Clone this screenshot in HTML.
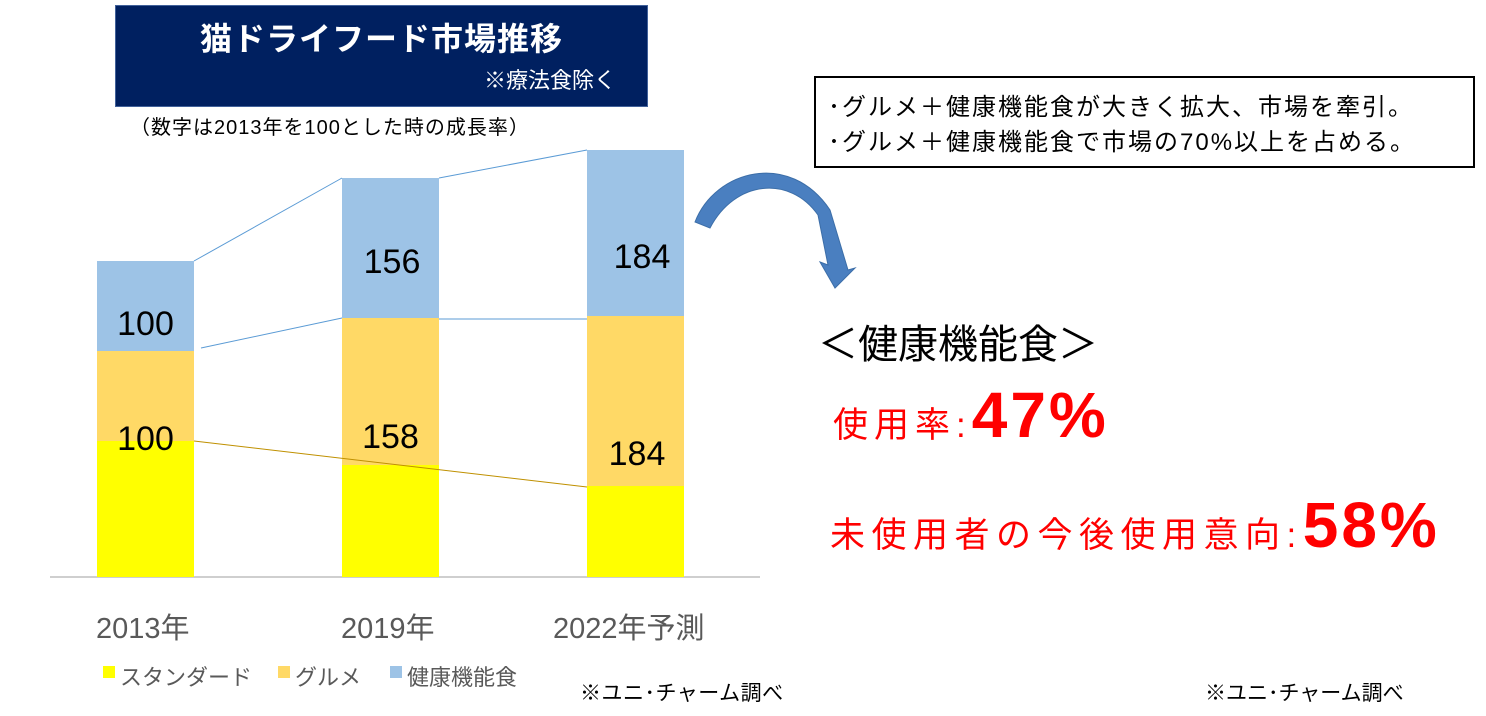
<!DOCTYPE html>
<html><head><meta charset="utf-8"><style>
body{margin:0;width:1486px;height:716px;background:#fff;position:relative;overflow:hidden;font-family:"Liberation Sans","Noto Sans CJK JP",sans-serif}
.a{position:absolute;white-space:nowrap}
</style></head><body>
<div class="a" style="left:115px;top:5px;width:531px;height:100px;background:#002060;border:1px solid #41619a"></div>
<div class="a" style="left:115px;top:14px;width:533px;text-align:center;color:#fff;font-size:32px;font-weight:bold;letter-spacing:1px">猫ドライフード市場推移</div>
<div class="a" style="left:484px;top:63px;color:#fff;font-size:22px">※療法食除く</div>
<div class="a" style="left:130px;top:111px;color:#000;font-size:20px;letter-spacing:1px">（数字は2013年を100とした時の成長率）</div>
<svg class="a" style="left:0;top:0" width="1486" height="716">
<line x1="50" y1="577" x2="760" y2="577" stroke="#bfbfbf" stroke-width="1.5"/>
<rect x="97" y="261" width="97" height="90" fill="#9dc3e6"/><rect x="97" y="351" width="97" height="90" fill="#ffd966"/><rect x="97" y="441" width="97" height="136" fill="#ffff00"/>
<rect x="342" y="178" width="97" height="140" fill="#9dc3e6"/><rect x="342" y="318" width="97" height="147" fill="#ffd966"/><rect x="342" y="465" width="97" height="112" fill="#ffff00"/>
<rect x="587" y="150" width="97" height="166" fill="#9dc3e6"/><rect x="587" y="316" width="97" height="170" fill="#ffd966"/><rect x="587" y="486" width="97" height="91" fill="#ffff00"/>
<g stroke="#5b9bd5" stroke-width="1"><line x1="194" y1="261" x2="342" y2="178"/><line x1="439" y1="178" x2="587" y2="150"/><line x1="201" y1="348" x2="342" y2="318"/><line x1="439" y1="319" x2="587" y2="319"/></g>
<line x1="194" y1="441" x2="587" y2="487" stroke="#bf9000" stroke-width="1"/>
<path d="M695,222 C715,170 790,150 830,210 L848,270 L855,268 L835,288 L820,262 L828,265 L818,215 C790,175 735,180 710,228 Z" fill="#4a7fc0" stroke="#3c6ea8"/>
<rect x="103" y="666" width="12" height="12" fill="#ffff00"/><rect x="278" y="666" width="12" height="12" fill="#ffd966"/><rect x="390" y="666" width="12" height="12" fill="#9dc3e6"/>
</svg>
<div class="a" style="left:97px;top:305px;width:97px;text-align:center;font-size:34px">100</div>
<div class="a" style="left:97px;top:420px;width:97px;text-align:center;font-size:34px">100</div>
<div class="a" style="left:342px;top:243px;width:100px;text-align:center;font-size:34px">156</div>
<div class="a" style="left:342px;top:418px;width:97px;text-align:center;font-size:34px">158</div>
<div class="a" style="left:592px;top:238px;width:100px;text-align:center;font-size:34px">184</div>
<div class="a" style="left:587px;top:435px;width:100px;text-align:center;font-size:34px">184</div>
<div class="a" style="left:96px;top:605px;color:#595959;font-size:29px">2013年</div>
<div class="a" style="left:341px;top:605px;color:#595959;font-size:29px">2019年</div>
<div class="a" style="left:553px;top:605px;color:#595959;font-size:29px">2022年予測</div>
<div class="a" style="left:120px;top:660px;color:#595959;font-size:22px">スタンダード</div>
<div class="a" style="left:295px;top:660px;color:#595959;font-size:22px">グルメ</div>
<div class="a" style="left:407px;top:660px;color:#595959;font-size:22px">健康機能食</div>
<div class="a" style="left:580px;top:677px;font-size:21px;letter-spacing:0.5px">※ユニ･チャーム調べ</div>
<div class="a" style="left:1205px;top:677px;font-size:21px;letter-spacing:0px">※ユニ･チャーム調べ</div>
<div class="a" style="left:814px;top:76px;width:657px;height:88px;border:2px solid #000"></div>
<div class="a" style="left:828px;top:87px;font-size:24px;letter-spacing:2px">･グルメ＋健康機能食が大きく拡大、市場を牽引。</div>
<div class="a" style="left:828px;top:122px;font-size:24px;letter-spacing:2px">･グルメ＋健康機能食で市場の70%以上を占める。</div>
<div class="a" style="left:818px;top:312px;font-size:40px">＜健康機能食＞</div>
<div class="a" style="left:833px;top:378px;color:#ff0000;font-size:35px;letter-spacing:6px">使用率:<span style="font-size:64px;font-weight:bold;letter-spacing:3px">47%</span></div>
<div class="a" style="left:830px;top:488px;color:#ff0000;font-size:35px;letter-spacing:6.5px">未使用者の今後使用意向:<span style="font-size:64px;font-weight:bold;letter-spacing:3px">58%</span></div>
</body></html>
